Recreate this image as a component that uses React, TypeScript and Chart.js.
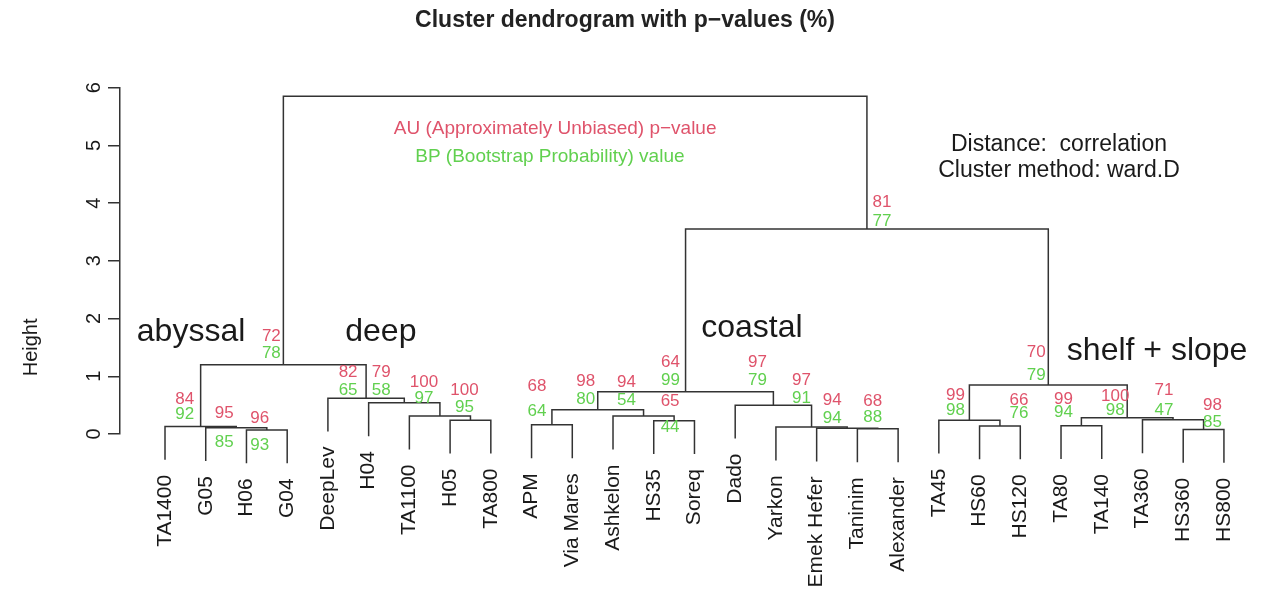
import React, { useEffect, useRef } from "react";
import { Chart, registerables } from "chart.js";

Chart.register(...registerables);

// ---------- data ----------
const leafLabels = [
  "TA1400", "G05", "H06", "G04", "DeepLev", "H04", "TA1100", "H05", "TA800",
  "APM", "Via Mares", "Ashkelon", "HS35", "Soreq", "Dado", "Yarkon", "Emek Hefer",
  "Taninim", "Alexander", "TA45", "HS60", "HS120", "TA80", "TA140", "TA360",
  "HS360", "HS800",
];

// hclust-style merge table: negative = leaf (1-based), positive = earlier merge row (1-based)
const mergeLeft = [-3, -26, -18, -17, -2, -16, -1, -21, -23, -10, -13, -8, -20, -25, 9, -7, -12, 10, -15, -6, -5, 18, 13, 7, 22, 24];
const mergeRight = [-4, -27, -19, 3, 1, 4, 5, -22, -24, -11, -14, -9, 8, 2, 14, 12, 11, 17, 6, 16, 20, 19, 15, 21, 23, 25];
const mergeHeights = [0.07, 0.08, 0.09, 0.1, 0.11, 0.12, 0.13, 0.14, 0.145, 0.16, 0.23, 0.24, 0.24, 0.245, 0.28, 0.31, 0.31, 0.42, 0.5, 0.54, 0.62, 0.73, 0.85, 1.2, 3.55, 5.85];
const auValues = [96, 98, 68, 94, 95, 97, 84, 66, 99, 68, 65, 100, 99, 71, 100, 100, 94, 98, 97, 79, 82, 64, 70, 72, 81, null];
const bpValues = [93, 85, 88, 94, 85, 91, 92, 76, 94, 64, 44, 95, 98, 47, 98, 97, 54, 80, 79, 58, 65, 99, 79, 78, 77, null];

const yTicks = [0, 1, 2, 3, 4, 5, 6];

const titleText = "Cluster dendrogram with p\u2212values (%)";
const yTitle = "Height";
const auLegend = "AU (Approximately Unbiased) p\u2212value";
const bpLegend = "BP (Bootstrap Probability) value";
const infoLines = ["Distance:  correlation", "Cluster method: ward.D"];

// group annotations (data coordinates: leaf position, height)
const groupNames = ["abyssal", "deep", "coastal", "shelf + slope"];
const groupX = [1.64, 6.3, 15.41, 25.36];
const groupH = [1.76, 1.76, 1.84, 1.43];

// ---------- style ----------
const FONT = '"Liberation Sans", Arial, Helvetica, sans-serif';
const AU_COLOR = "#DF536B";
const BP_COLOR = "#61D04F";
const LINE_COLOR = "#333333";
const TEXT_COLOR = "#1a1a1a";
// per-node label nudges [dx, dyAU, dyBP] in pixels
const labelNudge: number[][] = [
  [-7, -12, 15], [9, -24, -7], [-5, -27, -11], [-15, -28, -10], [-12, -14, 15],
  [-10, -47, -29], [-16, -27, -12], [19, -26, -13], [-18, -26, -13], [-15, -38, -13],
  [-4, -19, 7], [-6, -30, -13], [-14, -25, -10], [-9, -30, -10], [-12, -22, -8],
  [-16, -34, -18], [-17, -34, -16], [-12, -28, -10], [-16, -43, -25], [-23, -31, -13],
  [-18, -26, -8], [-15, -30, -12], [-12, -33, -10], [-12, -28, -11], [15, -27, -8],
  [0, 0, 0],
];

function buildTree() {
  const hang = 0.1 * (Math.max(...mergeHeights) - Math.min(...mergeHeights));
  const nodeX: number[] = [];
  const leafEnd: number[] = new Array(leafLabels.length + 1).fill(0);
  const segments: { x: number; y: number }[][] = [];
  for (let i = 0; i < mergeHeights.length; i++) {
    const h = mergeHeights[i];
    const refs = [mergeLeft[i], mergeRight[i]];
    const xs = refs.map((r) => (r < 0 ? -r : nodeX[r - 1]));
    const ys = refs.map((r) => {
      if (r < 0) {
        leafEnd[-r] = h - hang;
        return h - hang;
      }
      return mergeHeights[r - 1];
    });
    nodeX.push((xs[0] + xs[1]) / 2);
    segments.push([
      { x: xs[0], y: ys[0] },
      { x: xs[0], y: h },
      { x: xs[1], y: h },
      { x: xs[1], y: ys[1] },
    ]);
  }
  return { nodeX, leafEnd, segments };
}

export default function App() {
  const canvasRef = useRef<HTMLCanvasElement | null>(null);

  useEffect(() => {
    const canvas = canvasRef.current;
    if (!canvas) return;
    const { nodeX, leafEnd, segments } = buildTree();

    const datasets = segments.map((seg, i) => ({
      label: "node " + (i + 1),
      data: seg,
      borderColor: LINE_COLOR,
      borderWidth: 1.5,
      pointRadius: 0,
      tension: 0,
      fill: false,
      clip: false as any,
    }));

    const textPlugin = {
      id: "dendroText",
      afterDatasetsDraw(chart: any) {
        const ctx: CanvasRenderingContext2D = chart.ctx;
        const xs = chart.scales.x;
        const ys = chart.scales.y;
        const area = chart.chartArea;
        ctx.save();

        // AU / BP values
        ctx.font = `17px ${FONT}`;
        ctx.textAlign = "center";
        ctx.textBaseline = "middle";
        for (let i = 0; i < mergeHeights.length; i++) {
          if (auValues[i] == null) continue;
          const px = xs.getPixelForValue(nodeX[i]);
          const py = ys.getPixelForValue(mergeHeights[i]);
          const [dx, dau, dbp] = labelNudge[i];
          ctx.fillStyle = AU_COLOR;
          ctx.fillText(String(auValues[i]), px + dx, py + dau);
          ctx.fillStyle = BP_COLOR;
          ctx.fillText(String(bpValues[i]), px + dx, py + dbp);
        }

        // legend of AU / BP
        ctx.font = `19px ${FONT}`;
        ctx.fillStyle = AU_COLOR;
        ctx.fillText(auLegend, xs.getPixelForValue(10.58), ys.getPixelForValue(5.29));
        ctx.fillStyle = BP_COLOR;
        ctx.fillText(bpLegend, xs.getPixelForValue(10.45), ys.getPixelForValue(4.8));

        // distance / method
        ctx.font = `23px ${FONT}`;
        ctx.fillStyle = TEXT_COLOR;
        ctx.fillText(infoLines[0], xs.getPixelForValue(22.95), ys.getPixelForValue(5.01));
        ctx.fillText(infoLines[1], xs.getPixelForValue(22.95), ys.getPixelForValue(4.57));

        // group names
        ctx.font = `32px ${FONT}`;
        for (let g = 0; g < groupNames.length; g++) {
          ctx.fillText(groupNames[g], xs.getPixelForValue(groupX[g]), ys.getPixelForValue(groupH[g]));
        }

        // leaf labels
        ctx.font = `21px ${FONT}`;
        ctx.textAlign = "right";
        for (let k = 1; k <= leafLabels.length; k++) {
          const px = xs.getPixelForValue(k);
          const py = ys.getPixelForValue(leafEnd[k]) + 15;
          ctx.save();
          ctx.translate(px, py);
          ctx.rotate(-Math.PI / 2);
          ctx.fillText(leafLabels[k - 1], 0, 0);
          ctx.restore();
        }

        // y axis title
        ctx.font = `20px ${FONT}`;
        ctx.textAlign = "center";
        ctx.save();
        ctx.translate(area.left - 89, ys.getPixelForValue(1.5));
        ctx.rotate(-Math.PI / 2);
        ctx.fillText(yTitle, 0, 0);
        ctx.restore();

        ctx.restore();
      },
    };

    const chart = new Chart(canvas, {
      type: "line",
      data: { datasets },
      options: {
        animation: false,
        responsive: true,
        maintainAspectRatio: false,
        layout: { padding: { left: 0, right: 12, top: 0, bottom: 180 } },
        plugins: {
          legend: { display: false },
          tooltip: { enabled: false },
          title: {
            display: true,
            text: titleText,
            color: "#222",
            font: { size: 23, weight: "bold", family: FONT },
            padding: { top: 7, bottom: 53 },
          },
        },
        scales: {
          x: { type: "linear", min: -0.105, max: 27.64, display: false },
          y: {
            type: "linear",
            min: yTicks[0],
            max: yTicks[yTicks.length - 1],
            afterFit: (s: any) => {
              s.width = 120;
            },
            afterBuildTicks: (s: any) => {
              s.ticks = yTicks.map((v) => ({ value: v }));
            },
            ticks: {
              minRotation: 90,
              maxRotation: 90,
              crossAlign: "center",
              padding: 8,
              color: TEXT_COLOR,
              font: { size: 20, family: FONT },
            },
            grid: {
              drawOnChartArea: false,
              tickLength: 12,
              color: LINE_COLOR,
              lineWidth: 1.5,
            },
            border: { display: true, color: LINE_COLOR, width: 1.5 },
          },
        },
      } as any,
      plugins: [textPlugin],
    });

    return () => chart.destroy();
  }, []);

  return (
    <div style={{ position: "fixed", left: 0, top: 0, width: 1262, height: 614, background: "#fff" }}>
      <canvas ref={canvasRef} />
    </div>
  );
}
